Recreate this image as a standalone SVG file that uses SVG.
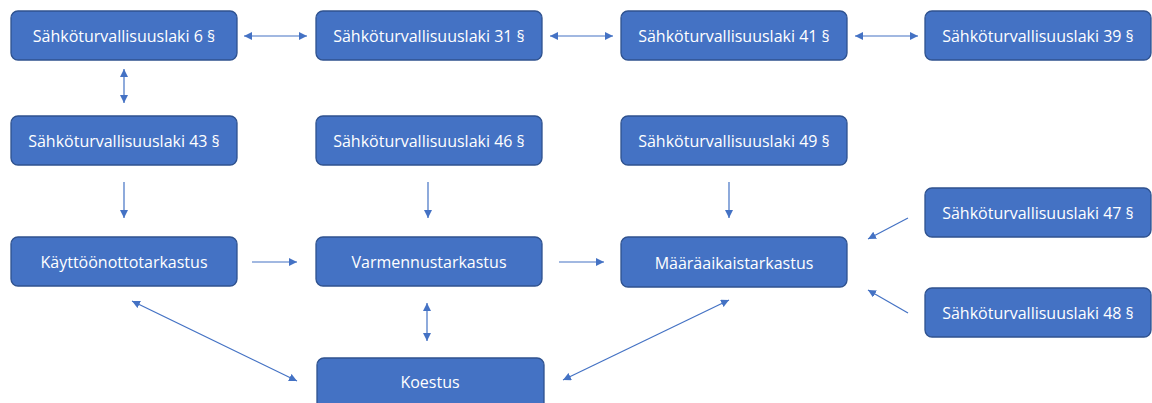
<svg xmlns="http://www.w3.org/2000/svg" width="1152" height="403" viewBox="0 0 1152 403">
  <style>
    .box { fill: #4472C4; stroke: #2F528F; stroke-width: 1.3; }
    .lbl { fill: #FFFFFF; font-family: "Open Sans", "Noto Sans", "Liberation Sans", sans-serif; font-size: 16px; text-anchor: middle; dominant-baseline: central; }
    .con { stroke: #4472C4; stroke-width: 1.2; fill: none; marker-end: url(#ah); }
    .bi { marker-start: url(#ahs); }
  </style>
  <defs>
    <marker id="ah" viewBox="0 0 10 10" refX="10" refY="5" markerWidth="8" markerHeight="8" markerUnits="userSpaceOnUse" orient="auto">
      <path d="M0,0 L10,5 L0,10 z" fill="#4472C4"/>
    </marker>
    <marker id="ahs" viewBox="0 0 10 10" refX="0" refY="5" markerWidth="8" markerHeight="8" markerUnits="userSpaceOnUse" orient="auto">
      <path d="M10,0 L0,5 L10,10 z" fill="#4472C4"/>
    </marker>
  </defs>

  <g id="connectors">
    <line class="con bi" x1="244" y1="36" x2="307" y2="36"/>
    <line class="con bi" x1="550" y1="36" x2="613" y2="36"/>
    <line class="con bi" x1="855" y1="36" x2="918" y2="36"/>
    <line class="con bi" x1="124" y1="69" x2="124" y2="103"/>
    <line class="con" x1="124" y1="182" x2="124" y2="218"/>
    <line class="con" x1="428" y1="182" x2="428" y2="218"/>
    <line class="con" x1="729" y1="182" x2="729" y2="218"/>
    <line class="con" x1="252" y1="262" x2="297" y2="262"/>
    <line class="con" x1="559" y1="262" x2="604" y2="262"/>
    <line class="con bi" x1="427" y1="303" x2="427" y2="341"/>
    <line class="con bi" x1="132" y1="301" x2="297" y2="381"/>
    <line class="con bi" x1="729" y1="300" x2="563" y2="380"/>
    <line class="con" x1="908" y1="218" x2="868" y2="239"/>
    <line class="con" x1="908" y1="313" x2="868" y2="290"/>
  </g>

  <g id="n-stl6"><rect class="box" x="11" y="11" width="226" height="49" rx="7"/><text class="lbl" x="124" y="35.5">Sähköturvallisuuslaki 6 §</text></g>
  <g id="n-stl31"><rect class="box" x="316" y="11" width="226" height="49" rx="7"/><text class="lbl" x="429" y="35.5">Sähköturvallisuuslaki 31 §</text></g>
  <g id="n-stl41"><rect class="box" x="621" y="11" width="226" height="49" rx="7"/><text class="lbl" x="734" y="35.5">Sähköturvallisuuslaki 41 §</text></g>
  <g id="n-stl39"><rect class="box" x="925" y="11" width="226" height="49" rx="7"/><text class="lbl" x="1038" y="35.5">Sähköturvallisuuslaki 39 §</text></g>

  <g id="n-stl43"><rect class="box" x="11" y="116" width="226" height="49" rx="7"/><text class="lbl" x="124" y="140.5">Sähköturvallisuuslaki 43 §</text></g>
  <g id="n-stl46"><rect class="box" x="316" y="116" width="226" height="49" rx="7"/><text class="lbl" x="429" y="140.5">Sähköturvallisuuslaki 46 §</text></g>
  <g id="n-stl49"><rect class="box" x="621" y="116" width="226" height="49" rx="7"/><text class="lbl" x="734" y="140.5">Sähköturvallisuuslaki 49 §</text></g>

  <g id="n-stl47"><rect class="box" x="925" y="188" width="226" height="49" rx="7"/><text class="lbl" x="1038" y="212.5">Sähköturvallisuuslaki 47 §</text></g>
  <g id="n-stl48"><rect class="box" x="925" y="288" width="226" height="49" rx="7"/><text class="lbl" x="1038" y="312.5">Sähköturvallisuuslaki 48 §</text></g>

  <g id="n-kayttoonotto"><rect class="box" x="11" y="237" width="226" height="49" rx="7"/><text class="lbl" x="124" y="261.5">Käyttöönottotarkastus</text></g>
  <g id="n-varmennus"><rect class="box" x="316" y="237" width="226" height="49" rx="7"/><text class="lbl" x="429" y="261.5">Varmennustarkastus</text></g>
  <g id="n-maaraaikais"><rect class="box" x="621" y="237" width="226" height="50" rx="7"/><text class="lbl" x="734" y="263">Määräaikaistarkastus</text></g>

  <g id="n-koestus"><rect class="box" x="317" y="358" width="227" height="60" rx="7"/><text class="lbl" x="430" y="382">Koestus</text></g>
</svg>
